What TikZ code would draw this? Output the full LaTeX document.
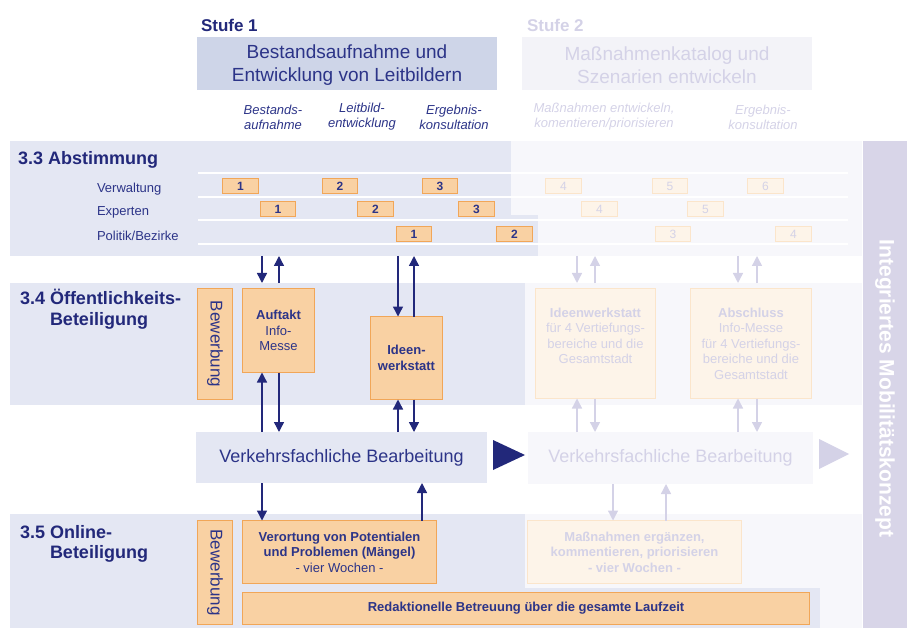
\documentclass[tikz,border=0pt]{standalone}
\usepackage{fontspec}
\setmainfont{Liberation Sans}
\usetikzlibrary{arrows.meta}

\definecolor{navy}{RGB}{34,40,122}
\definecolor{ink}{RGB}{44,52,136}
\definecolor{bandblue}{RGB}{228,231,243}
\definecolor{headblue}{RGB}{206,213,232}
\definecolor{paleband}{RGB}{247,247,251}
\definecolor{palehead}{RGB}{243,243,248}
\definecolor{ghost}{RGB}{212,210,231}
\definecolor{barlilac}{RGB}{216,213,232}
\definecolor{orfill}{RGB}{249,209,163}
\definecolor{ordraw}{RGB}{241,166,88}
\definecolor{paleorfill}{RGB}{253,244,233}
\definecolor{paleordraw}{RGB}{251,229,203}

\newcommand\fsz[2]{\fontsize{#1}{#2}\selectfont}

\tikzset{
  every node/.style={inner sep=0pt, outer sep=0pt},
  heading/.style={anchor=base west, text=navy, font=\fsz{18}{20}\bfseries},
  stagelabel/.style={anchor=base west, font=\fsz{17}{20}\bfseries},
  phasebox/.style={minimum width=299pt, minimum height=53pt, align=center, font=\fsz{19}{23}},
  substep/.style={align=center, font=\fsz{13}{15}\itshape, text=ink},
  psubstep/.style={substep, text=ghost},
  rowlabel/.style={anchor=base west, text=ink, font=\fsz{13}{15}},
  numbox/.style={draw=ordraw, fill=orfill, line width=1.3pt, minimum width=35.5pt,
    minimum height=15pt, text=ink, font=\fsz{12}{12}\bfseries},
  pnumbox/.style={draw=paleordraw, fill=paleorfill, line width=1.3pt, minimum width=35.5pt,
    minimum height=15pt, text=ghost, font=\fsz{12}{12}},
  obox/.style={draw=ordraw, fill=orfill, line width=1.3pt, text=ink, align=center,
    font=\fsz{13}{15.5}},
  pbox/.style={draw=paleordraw, fill=paleorfill, line width=1.3pt, text=ghost, align=center,
    font=\fsz{13}{15.5}},
  adbox/.style={obox, rotate=-90, font=\fsz{17}{17}},
  workbox/.style={minimum width=291pt, minimum height=51pt, font=\fsz{18}{20}},
  arr/.style={draw=navy, line width=1.4pt, -{Triangle[width=10pt,length=10pt]}},
  parr/.style={draw=ghost, line width=1.4pt, -{Triangle[width=10pt,length=10pt]}},
  sepline/.style={draw=white, line width=1.8pt}
}

\begin{document}
\begin{tikzpicture}[x=1pt,y=-1pt]
\useasboundingbox (0,0) rectangle (907,628);

% ---------- background bands ----------
% 3.3 Abstimmung
\fill[bandblue] (10,141) rectangle (511,256);
\fill[bandblue] (511,215) rectangle (538,256);
\fill[paleband] (511,141) rectangle (862,215);
\fill[paleband] (538,215) rectangle (862,256);
% 3.4 Oeffentlichkeitsbeteiligung
\fill[bandblue] (10,283) rectangle (525,405);
\fill[paleband] (525,283) rectangle (862,405);
% 3.5 Online-Beteiligung
\fill[bandblue] (10,514) rectangle (525,628);
\fill[bandblue] (525,588) rectangle (820,628);
\fill[paleband] (525,514) rectangle (862,588);
\fill[paleband] (820,588) rectangle (862,628);

% row separators of the Abstimmung timeline
\foreach \yy in {173,197,220,244}
  \draw[sepline] (198,\yy) -- (848,\yy);

% ---------- right-hand bar ----------
\fill[barlilac] (863,141) rectangle (907,628);
\node[rotate=-90, text=white, font=\fsz{21}{22}\bfseries] (ikm) at (885,388.5)
      {Integriertes Mobilitätskonzept};

% ---------- stage headers ----------
\node[stagelabel, text=navy] (st1) at (201,32) {Stufe 1};
\node[stagelabel, text=ghost] (st2) at (527,32) {Stufe 2};

\fill[headblue] (197,37) rectangle (497,90);
\fill[palehead] (522,37) rectangle (812,90);
\node[align=center, font=\fsz{19}{23}, text=ink] (ph1) at (347,65.5)
  {Bestandsaufnahme und\\Entwicklung von Leitbildern};
\node[align=center, font=\fsz{19}{23}, text=ghost] (ph2) at (667,65.5)
  {Maßnahmenkatalog und\\Szenarien entwickeln};

\node[substep] (s11) at (273,117) {Bestands-\\aufnahme};
\node[substep] (s12) at (362,117) {Leitbild-\\entwicklung};
\node[substep] (s13) at (454,117) {Ergebnis-\\konsultation};
\node[psubstep] (s21) at (604,117) {Maßnahmen entwickeln,\\komentieren/priorisieren};
\node[psubstep] (s22) at (763,117) {Ergebnis-\\konsultation};

% ---------- section headings ----------
\node[heading] (h33) at (18,165) {3.3 Abstimmung};
\node[heading] (h34a) at (20,304) {3.4 Öffentlichkeits-};
\node[heading] (h34b) at (50,325) {Beteiligung};
\node[heading] (h35a) at (20,538) {3.5 Online-};
\node[heading] (h35b) at (50,558) {Beteiligung};

% ---------- Abstimmung timeline ----------
\node[rowlabel] (rv) at (97,193) {Verwaltung};
\node[rowlabel] (re) at (97,215.5) {Experten};
\node[rowlabel] (rp) at (97,241) {Politik/Bezirke};

\node[numbox] (v1) at (240.5,186) {1};
\node[numbox] (v2) at (340,186) {2};
\node[numbox] (v3) at (440,186) {3};
\node[numbox] (e1) at (278,209) {1};
\node[numbox] (e2) at (375.5,209) {2};
\node[numbox] (e3) at (476.5,209) {3};
\node[numbox] (p1) at (414,234) {1};
\node[numbox] (p2) at (514.5,234) {2};

\node[pnumbox] (v4) at (563.5,186) {4};
\node[pnumbox] (v5) at (670,186) {5};
\node[pnumbox] (v6) at (765.5,186) {6};
\node[pnumbox] (e4) at (599.5,209) {4};
\node[pnumbox] (e5) at (705.5,209) {5};
\node[pnumbox] (p3) at (673,234) {3};
\node[pnumbox] (p4) at (793.5,234) {4};

% ---------- Oeffentlichkeitsbeteiligung ----------
\node[adbox, minimum width=111pt, minimum height=35pt] (bew1) at (215,344) {Bewerbung};
\node[obox, minimum width=72pt, minimum height=84pt] (auftakt) at (278.5,330.5)
  {\textbf{Auftakt}\\Info-\\Messe};
\node[obox, minimum width=72pt, minimum height=83pt, font=\fsz{13}{15.5}\bfseries]
  (ideen) at (406.5,358) {Ideen-\\werkstatt};
\node[pbox, minimum width=120pt, minimum height=110pt] (ideen2) at (595.5,343.5)
  {\textbf{Ideenwerkstatt}\\für 4 Vertiefungs-\\bereiche und die\\Gesamtstadt\\\mbox{}};
\node[pbox, minimum width=121pt, minimum height=110pt] (absch) at (751,343.5)
  {\textbf{Abschluss}\\Info-Messe\\für 4 Vertiefungs-\\bereiche und die\\Gesamtstadt};

% ---------- Verkehrsfachliche Bearbeitung ----------
\node[workbox, fill=bandblue, text=ink] (vb1) at (341.5,457.5) {Verkehrsfachliche Bearbeitung};
\node[workbox, minimum width=285pt, minimum height=52pt, fill=paleband, text=ghost] (vb2)
  at (670.5,458) {Verkehrsfachliche Bearbeitung};
\fill[navy] (493,440) -- (525,455) -- (493,470) -- cycle;
\fill[ghost] (819,439) -- (849,454) -- (819,469) -- cycle;

% ---------- Online-Beteiligung ----------
\node[adbox, minimum width=104pt, minimum height=35pt] (bew2) at (215,572.5) {Bewerbung};
\node[obox, minimum width=194pt, minimum height=63pt] (verort) at (339.5,552)
  {\textbf{Verortung von Potentialen}\\\textbf{und Problemen (Mängel)}\\- vier Wochen -};
\node[pbox, minimum width=214pt, minimum height=63pt, font=\fsz{13}{15.5}\bfseries]
  (massn) at (634.5,552)
  {Maßnahmen ergänzen,\\kommentieren, priorisieren\\- vier Wochen -};
\node[obox, minimum width=567pt, minimum height=32pt, font=\fsz{13}{15.5}\bfseries]
  (redakt) at (526,608.5) {Redaktionelle Betreuung über die gesamte Laufzeit};

% ---------- arrow columns and levels ----------
\coordinate (lo33) at (0,256);
\coordinate (up34) at (0,283);
\coordinate (cA1) at (262,0);
\coordinate (cA2) at (279,0);
\coordinate (cI1) at (398,0);
\coordinate (cI2) at (414,0);
\coordinate (cV2) at (422,0);
\coordinate (cJ1) at (577,0);
\coordinate (cJ2) at (595,0);
\coordinate (cS1) at (738,0);
\coordinate (cS2) at (757,0);
\coordinate (cM1) at (613,0);
\coordinate (cM2) at (666,0);

% stage 1 exchanges
\draw[arr] (lo33 -| cA1) -- (up34 -| cA1);
\draw[arr] (up34 -| cA2) -- (lo33 -| cA2);
\draw[arr] (vb1.north -| cA1) -- (auftakt.south -| cA1);
\draw[arr] (auftakt.south -| cA2) -- (vb1.north -| cA2);
\draw[arr] (lo33 -| cI1) -- (ideen.north -| cI1);
\draw[arr] (ideen.north -| cI2) -- (lo33 -| cI2);
\draw[arr] (vb1.north -| cI1) -- (ideen.south -| cI1);
\draw[arr] (ideen.south -| cI2) -- (vb1.north -| cI2);
\draw[arr] (vb1.south -| cA1) -- (verort.north -| cA1);
\draw[arr] (verort.north -| cV2) -- (vb1.south -| cV2);

% stage 2 exchanges
\draw[parr] (lo33 -| cJ1) -- (up34 -| cJ1);
\draw[parr] (up34 -| cJ2) -- (lo33 -| cJ2);
\draw[parr] (vb2.north -| cJ1) -- (ideen2.south -| cJ1);
\draw[parr] (ideen2.south -| cJ2) -- (vb2.north -| cJ2);
\draw[parr] (lo33 -| cS1) -- (up34 -| cS1);
\draw[parr] (up34 -| cS2) -- (lo33 -| cS2);
\draw[parr] (vb2.north -| cS1) -- (absch.south -| cS1);
\draw[parr] (absch.south -| cS2) -- (vb2.north -| cS2);
\draw[parr] (vb2.south -| cM1) -- (massn.north -| cM1);
\draw[parr] (massn.north -| cM2) -- (vb2.south -| cM2);
\end{tikzpicture}
\end{document}
